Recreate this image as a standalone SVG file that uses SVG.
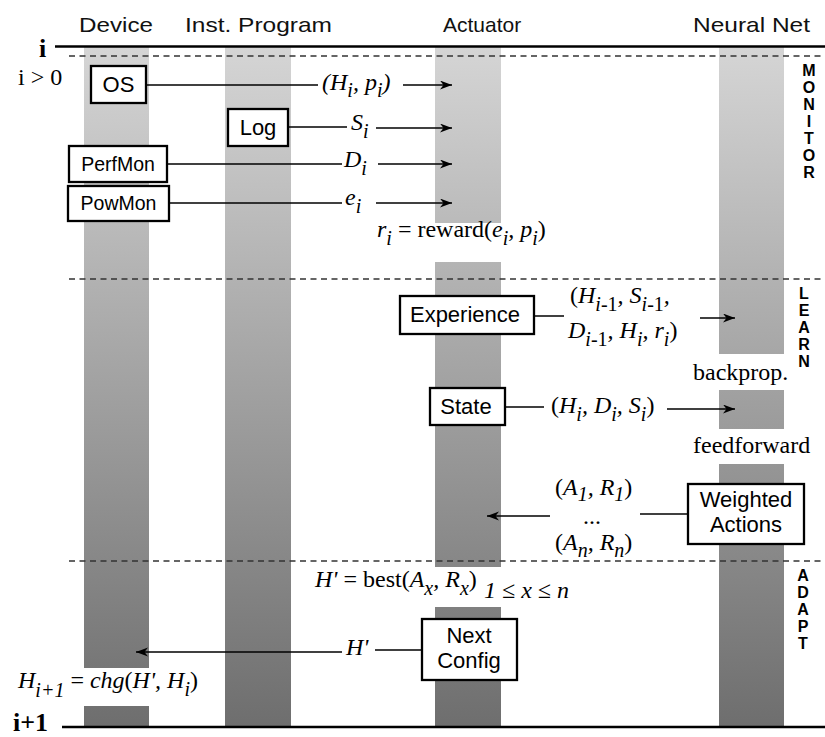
<svg xmlns="http://www.w3.org/2000/svg" width="825" height="737" viewBox="0 0 825 737">
<style>
.hdr{font-family:"Liberation Sans",Arial,sans-serif;font-size:21px;fill:#111}
.box{fill:#fff;stroke:#000;stroke-width:2.3}
.bt{font-family:"Liberation Sans",Arial,sans-serif;font-size:22px;fill:#000;text-anchor:middle}
.m{font-family:"Liberation Serif","Times New Roman",serif;font-size:24px;font-style:italic;fill:#000}
.r{font-family:"Liberation Serif","Times New Roman",serif;font-size:24px;fill:#000}
.rm{font-style:normal}
.s{font-size:20px}
.ph{font-family:"Liberation Sans",Arial,sans-serif;font-size:16px;font-weight:bold;fill:#000;writing-mode:vertical-rl;text-orientation:upright;letter-spacing:0px}
.big{font-family:"Liberation Serif","Times New Roman",serif;font-size:26px;font-weight:bold;fill:#000}
.ln{stroke:#000;stroke-width:1.5;fill:none}
.arr{stroke:#000;stroke-width:1.5;fill:none;marker-end:url(#ah)}
.dash{stroke:#333;stroke-width:1.6;stroke-dasharray:6 4.5}
.lane{fill:url(#g)}
</style>
<defs>
<linearGradient id="g" gradientUnits="userSpaceOnUse" x1="0" y1="47" x2="0" y2="727">
<stop offset="0" stop-color="#d5d5d5"/>
<stop offset="1" stop-color="#6e6e6e"/>
</linearGradient>
<marker id="ah" markerUnits="userSpaceOnUse" markerWidth="14" markerHeight="10" refX="12" refY="4.5" orient="auto">
<path d="M0,0 L12,4.5 L0,9 L3.5,4.5 z" fill="#000"/>
</marker>
</defs>

<!-- lanes -->
<g id="lanes">
<rect class="lane" x="84" y="47" width="65" height="621"/>
<rect class="lane" x="84" y="706" width="65" height="21"/>
<rect class="lane" x="225" y="47" width="66" height="680"/>
<rect class="lane" x="435" y="47" width="66" height="176"/>
<rect class="lane" x="435" y="262" width="66" height="305"/>
<rect class="lane" x="435" y="607" width="66" height="120"/>
<rect class="lane" x="719" y="47" width="65" height="307"/>
<rect class="lane" x="719" y="390" width="65" height="39"/>
<rect class="lane" x="719" y="464" width="65" height="263"/>
</g>

<!-- headers and phase lines -->
<g id="headers">
<text class="hdr" x="79" y="32" textLength="74" lengthAdjust="spacingAndGlyphs" font-size="22">Device</text>
<text class="hdr" x="185" y="32" textLength="147" lengthAdjust="spacingAndGlyphs">Inst. Program</text>
<text class="hdr" x="443" y="32" font-size="19">Actuator</text>
<text class="hdr" x="693" y="32" textLength="117" lengthAdjust="spacingAndGlyphs">Neural Net</text>
</g>
<g id="phases">
<line x1="55" y1="46.5" x2="825" y2="46.5" stroke="#000" stroke-width="2.6"/>
<line x1="62" y1="727" x2="825" y2="727" stroke="#000" stroke-width="2.6"/>
<line class="dash" x1="69" y1="56" x2="825" y2="56"/>
<line class="dash" x1="69" y1="279" x2="825" y2="279"/>
<line class="dash" x1="69" y1="561" x2="825" y2="561"/>
<text class="big" x="39" y="57">i</text>
<text class="big" x="13" y="731" font-size="24">i+1</text>
<text class="r" x="18" y="85">i &gt; 0</text>
<text class="ph" x="809" y="62">MONITOR</text>
<text class="ph" x="804" y="285">LEARN</text>
<text class="ph" x="803" y="567">ADAPT</text>
</g>

<!-- nodes -->
<g id="os"><rect class="box" x="91" y="66" width="55" height="37"/><text class="bt" x="118.5" y="92" font-size="24">OS</text></g>
<g id="log"><rect class="box" x="228" y="109" width="60" height="37"/><text class="bt" x="258" y="135">Log</text></g>
<g id="perfmon"><rect class="box" x="69" y="146" width="98" height="36"/><text class="bt" x="118" y="171" style="font-size:19.5px">PerfMon</text></g>
<g id="powmon"><rect class="box" x="68" y="186" width="101" height="35"/><text class="bt" x="118.5" y="210" style="font-size:19.5px">PowMon</text></g>
<g id="experience"><rect class="box" x="400" y="296" width="134" height="38"/><text class="bt" x="465" y="322">Experience</text></g>
<g id="state"><rect class="box" x="430" y="388" width="75" height="37"/><text class="bt" x="466" y="414">State</text></g>
<g id="weighted"><rect class="box" x="688" y="484" width="116" height="60"/><text class="bt" x="746" y="507">Weighted</text><text class="bt" x="746" y="532">Actions</text></g>
<g id="nextconfig"><rect class="box" x="422" y="619" width="95" height="61"/><text class="bt" x="469" y="643">Next</text><text class="bt" x="469" y="668">Config</text></g>

<!-- connectors -->
<g id="connectors">
<line class="ln" x1="146" y1="85" x2="318" y2="85"/>
<line class="arr" x1="403" y1="85" x2="452" y2="85"/>
<line class="ln" x1="288" y1="127" x2="347" y2="127"/>
<line class="arr" x1="376" y1="128" x2="452" y2="128"/>
<line class="ln" x1="167" y1="164" x2="342" y2="164"/>
<line class="arr" x1="378" y1="164" x2="452" y2="164"/>
<line class="ln" x1="169" y1="203" x2="342" y2="203"/>
<line class="arr" x1="376" y1="203" x2="452" y2="203"/>
<line class="ln" x1="534" y1="316" x2="564" y2="316"/>
<line class="arr" x1="700" y1="318" x2="735" y2="318"/>
<line class="ln" x1="505" y1="407" x2="544" y2="407"/>
<line class="arr" x1="667" y1="409" x2="735" y2="409"/>
<line class="ln" x1="640" y1="514" x2="688" y2="514"/>
<line class="arr" x1="550" y1="516" x2="487" y2="516"/>
<line class="ln" x1="375" y1="650" x2="422" y2="650"/>
<line class="arr" x1="342" y1="652" x2="136" y2="652"/>
</g>

<!-- labels -->
<g id="labels">
<text class="m" x="322" y="90">(H<tspan class="s" dy="7">i</tspan><tspan dy="-7">, p</tspan><tspan class="s" dy="7">i</tspan><tspan dy="-7">)</tspan></text>
<text class="m" x="351" y="130">S<tspan class="s" dy="8">i</tspan></text>
<text class="m" x="344" y="167">D<tspan class="s" dy="8">i</tspan></text>
<text class="m" x="345" y="205">e<tspan class="s" dy="8">i</tspan></text>
<text class="m" x="377" y="237">r<tspan class="s" dy="8">i</tspan><tspan class="rm" dy="-8"> = reward(</tspan>e<tspan class="s" dy="8">i</tspan><tspan dy="-8">, p</tspan><tspan class="s" dy="8">i</tspan><tspan class="rm" dy="-8">)</tspan></text>
<text class="m" x="570" y="303"><tspan class="rm">(</tspan>H<tspan class="s" dy="8">i</tspan><tspan class="s rm">-1</tspan><tspan dy="-8">, S</tspan><tspan class="s" dy="8">i</tspan><tspan class="s rm">-1</tspan><tspan dy="-8">,</tspan></text>
<text class="m" x="568" y="338">D<tspan class="s" dy="8">i</tspan><tspan class="s rm">-1</tspan><tspan dy="-8">, H</tspan><tspan class="s" dy="8">i</tspan><tspan dy="-8">, r</tspan><tspan class="s" dy="8">i</tspan><tspan class="rm" dy="-8">)</tspan></text>
<text class="r" x="693" y="380">backprop.</text>
<text class="m" x="551" y="413"><tspan class="rm">(</tspan>H<tspan class="s" dy="8">i</tspan><tspan dy="-8">, D</tspan><tspan class="s" dy="8">i</tspan><tspan dy="-8">, S</tspan><tspan class="s" dy="8">i</tspan><tspan class="rm" dy="-8">)</tspan></text>
<text class="r" x="693" y="453">feedforward</text>
<text class="m" x="555" y="495"><tspan class="rm">(</tspan>A<tspan class="s" dy="6">1</tspan><tspan dy="-6">, R</tspan><tspan class="s" dy="6">1</tspan><tspan class="rm" dy="-6">)</tspan></text>
<text class="r" x="592" y="524" text-anchor="middle" font-size="16">...</text>
<text class="m" x="555" y="550"><tspan class="rm">(</tspan>A<tspan class="s" dy="7">n</tspan><tspan dy="-7">, R</tspan><tspan class="s" dy="7">n</tspan><tspan class="rm" dy="-7">)</tspan></text>
<text class="m" x="315" y="587">H'<tspan class="rm"> = best(</tspan>A<tspan class="s" dy="8">x</tspan><tspan dy="-8">, R</tspan><tspan class="s" dy="8">x</tspan><tspan class="rm" dy="-8">)</tspan></text>
<text class="m" x="484" y="598">1 ≤ x ≤ n</text>
<text class="m" x="346" y="655">H'</text>
<text class="m" x="18" y="688">H<tspan class="s" dy="9">i+1</tspan><tspan class="rm" dy="-9"> = </tspan>chg<tspan class="rm">(</tspan>H', H<tspan class="s" dy="8">i</tspan><tspan class="rm" dy="-8">)</tspan></text>
</g>
</svg>
